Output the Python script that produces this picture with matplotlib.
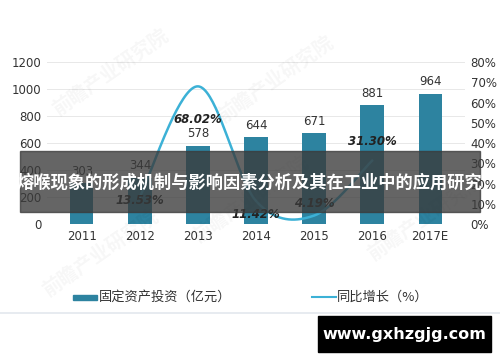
import matplotlib.pyplot as plt
import numpy as np
from matplotlib.patches import Rectangle
from matplotlib.lines import Line2D

plt.rcParams["font.family"] = ["Noto Sans CJK SC", "DejaVu Sans"]

years = ["2011", "2012", "2013", "2014", "2015", "2016", "2017E"]
investment = [303, 344, 578, 644, 671, 881, 964]
growth_years = ["2012", "2013", "2014", "2015", "2016"]
growth = [13.53, 68.02, 11.42, 4.19, 31.30]
growth_label_offsets = [-3, -24, -10, 9, 14]  # points, vertical

bar_label = "固定资产投资（亿元）"
line_label = "同比增长（%）"
banner_text = "熔喉现象的形成机制与影响因素分析及其在工业中的应用研究"
site_text = "www.gxhzgjg.com"

BAR_COLOR = "#2d83a0"
LINE_COLOR = "#3cb1d6"


def smooth_curve(x, y, n=40):
    """Catmull-Rom style smoothing, roughly what office charts do."""
    x = np.asarray(x, float)
    y = np.asarray(y, float)
    px = np.concatenate([[x[0]], x, [x[-1]]])
    py = np.concatenate([[y[0]], y, [y[-1]]])
    out_x, out_y = [], []
    t = np.linspace(0, 1, n)
    for i in range(1, len(px) - 2):
        p0, p1, p2, p3 = (np.array([px[j], py[j]]) for j in range(i - 1, i + 3))
        c1 = p1 + (p2 - p0) / 6
        c2 = p2 - (p3 - p1) / 6
        pts = ((1 - t) ** 3)[:, None] * p1 + (3 * (1 - t) ** 2 * t)[:, None] * c1 \
            + (3 * (1 - t) * t ** 2)[:, None] * c2 + (t ** 3)[:, None] * p2
        out_x.extend(pts[:, 0])
        out_y.extend(pts[:, 1])
    return np.array(out_x), np.array(out_y)


fig = plt.figure(figsize=(5, 3.62), dpi=100)
ax = fig.add_axes([0.094, 0.381, 0.836, 0.4475])
ax2 = ax.twinx()

x = np.arange(len(years))
ax.bar(x, investment, width=0.4, color=BAR_COLOR, zorder=2)
for xi, v in zip(x, investment):
    ax.annotate(str(v), (xi, v), xytext=(0, 4), textcoords="offset points",
                ha="center", va="bottom", fontsize=8.5, color="#333333",
                family="DejaVu Sans")

ax.set_xlim(-0.6, 6.6)
ax.set_ylim(0, 1200)
ax.set_yticks(range(0, 1201, 200))
ax.set_xticks(x)
ax.set_xticklabels(years)
ax.grid(axis="y", color="#e8e8e8", linewidth=0.7, zorder=0)
for s in ax.spines.values():
    s.set_visible(False)
for s in ax2.spines.values():
    s.set_visible(False)
ax.tick_params(length=0, labelsize=8.5, labelcolor="#333333", pad=4)
for lbl in ax.get_xticklabels() + ax.get_yticklabels():
    lbl.set_family("DejaVu Sans")

gx = [years.index(y) for y in growth_years]
sx, sy = smooth_curve(gx, growth)
ax2.plot(sx, sy, color=LINE_COLOR, linewidth=1.8, zorder=3)
ax2.set_ylim(0, 80)
ax2.set_yticks(range(0, 81, 10))
ax2.set_yticklabels([f"{t}%" for t in range(0, 81, 10)])
ax2.tick_params(length=0, labelsize=8.5, labelcolor="#333333", pad=4)
for lbl in ax2.get_yticklabels():
    lbl.set_family("DejaVu Sans")
for xi, v, off in zip(gx, growth, growth_label_offsets):
    ax2.annotate(f"{v:.2f}%", (xi, v), xytext=(0, off), textcoords="offset points",
                 ha="center", va="center", fontsize=8.5, color="#222222",
                 fontweight="bold", fontstyle="italic", family="DejaVu Sans")

# faint watermarks
for wx, wy in [(0.22, 0.8), (0.55, 0.78), (0.5, 0.45), (0.85, 0.4), (0.2, 0.3)]:
    fig.text(wx, wy, "前瞻产业研究院", rotation=35, fontsize=14, color="#000000",
             alpha=0.035, ha="center", va="center", fontweight="bold")

# legend
fig.add_artist(Rectangle((73 / 500, 1 - 300 / 362), 24 / 500, 5 / 362,
                         transform=fig.transFigure, color=BAR_COLOR))
fig.text(99 / 500, 1 - 297 / 362, bar_label, fontsize=9.5, color="#333333",
         va="center", ha="left")
fig.add_artist(Line2D([312 / 500, 336 / 500], [1 - 297 / 362] * 2,
                      transform=fig.transFigure, color=LINE_COLOR, linewidth=1.5))
fig.text(337 / 500, 1 - 297 / 362, line_label, fontsize=9.5, color="#333333",
         va="center", ha="left")
fig.add_artist(Line2D([0, 1], [1 - 313 / 362] * 2, transform=fig.transFigure,
                      color="#e3e8ee", linewidth=1.2))

# banner overlay
fig.add_artist(Rectangle((20 / 500, 1 - 212 / 362), 460 / 500, 61 / 362,
                         transform=fig.transFigure, color="#3a3a3a", alpha=0.78,
                         zorder=10))
fig.text(249 / 500, 1 - 183 / 362, banner_text, fontsize=12.4, color="white",
         fontweight="bold", ha="center", va="center", zorder=11)

# site box
fig.add_artist(Rectangle((318 / 500, 1 - 352 / 362), 173 / 500, 36 / 362,
                         transform=fig.transFigure, color="black", zorder=10))
fig.text(404 / 500, 1 - 334 / 362, site_text, fontsize=11.5, color="white",
         fontweight="bold", ha="center", va="center", zorder=11,
         family="DejaVu Sans")

fig.savefig("out.png", dpi=100)
